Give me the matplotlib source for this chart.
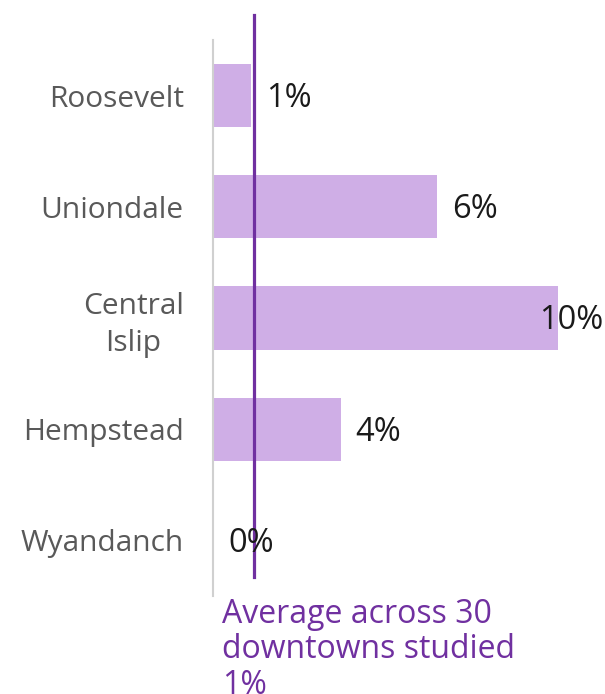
import matplotlib.pyplot as plt

plt.rcParams['font.family'] = ['Open Sans', 'DejaVu Sans']

towns = ['Roosevelt', 'Uniondale', 'Central\nIslip', 'Hempstead', 'Wyandanch']
share = [1.1, 6.5, 10.0, 3.7, 0.0]
average = 1.2

bar_color = '#cfaee6'
avg_color = '#7030a0'

fig = plt.figure(figsize=(6.05, 6.94), dpi=100)
ax = fig.add_axes([213 / 605, 98 / 694, 345 / 605, 556 / 694])

pos = list(range(len(towns)))
ax.barh(pos, share, height=0.57, color=bar_color)
ax.set_ylim(4.5, -0.5)
ax.set_xlim(0, max(share))

ax.set_yticks(pos)
ax.set_yticklabels(towns, fontsize=21.5, color='#595959', ha='right',
                   multialignment='center', linespacing=1.35)
ax.tick_params(axis='y', length=0, pad=21)
ax.set_xticks([])
for side in ['top', 'right', 'bottom']:
    ax.spines[side].set_visible(False)
ax.spines['left'].set_color('#d0d0d0')
ax.spines['left'].set_linewidth(1.5)

# value labels; the widest one gets pulled back inside the figure
for y, v in zip(pos, share):
    if v == max(share):
        ax.annotate(f'{v:.0f}%', (v, y), xytext=(45, -3), textcoords='offset pixels',
                    ha='right', va='center', fontsize=23.5, color='#1a1a1a')
    else:
        ax.annotate(f'{v:.0f}%', (v, y), xytext=(15, -3), textcoords='offset pixels',
                    ha='left', va='center', fontsize=23.5, color='#1a1a1a')

# average marker line, running past the top and bottom of the axes
ax.plot([average, average], [-0.725, 4.33], color=avg_color, lw=2.3, clip_on=False)
ax.annotate(f'Average across 30\ndowntowns studied\n{average:.0f}%', (0, 4.5),
            xytext=(9, -2), textcoords='offset pixels', ha='left', va='top',
            fontsize=23, color=avg_color, linespacing=1.1, annotation_clip=False)

fig.savefig('out.png', dpi=100)
